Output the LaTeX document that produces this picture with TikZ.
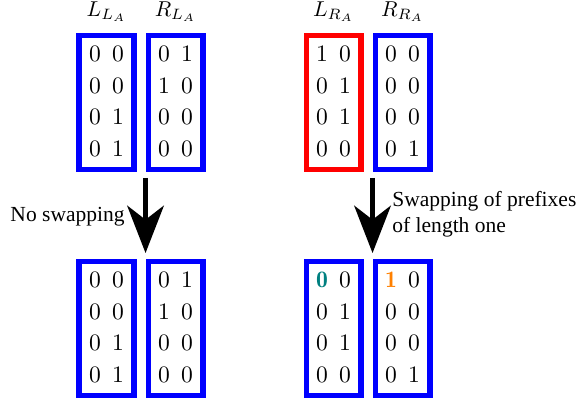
\documentclass[tikz,border=0pt]{standalone}
\usepackage{fontspec}
\newfontfamily\capfont{Liberation Serif}
\usetikzlibrary{arrows.meta,positioning}
\colorlet{myblue}{blue}
\colorlet{myred}{red}
\colorlet{myteal}{teal}
\colorlet{myorange}{orange}
\tikzset{
	>=latex, % default arrow head
	bitbox/.style={draw=myblue,line width=2.5pt,minimum width=25.4pt,minimum height=62.1pt,inner sep=0pt,font=\fontsize{11}{13}\selectfont},
	bitbox red/.style={bitbox,draw=myred},
	set name/.style={inner sep=0pt},
	swap arrow/.style={-{Stealth[length=22pt,width=17pt,inset=6.5pt]},line width=2.3pt,shorten <=2.8pt,shorten >=2.8pt},
	swap text/.style={font=\capfont,inner sep=0pt,align=left}
}
% four rows of two bits
\newcommand\bitrows[4]{\renewcommand{\arraystretch}{1.13}$\begin{array}{@{}c@{\hspace{5.2pt}}c@{}}#1\\#2\\#3\\#4\end{array}$}
\newcommand\hl[2]{\textcolor{#1}{\mathbf{#2}}}

\begin{document}
\begin{tikzpicture}[x=0.465pt,y=-0.465pt]
  \useasboundingbox (0,0) rectangle (576,402);

  % BEFORE
  \node[bitbox] (LLA) at (106.5,102.5) {\bitrows{0&0}{0&0}{0&1}{0&1}};
  \node[bitbox,right=4.2pt of LLA] (RLA) {\bitrows{0&1}{1&0}{0&0}{0&0}};
  \node[bitbox red] (LRA) at (333.5,102.5) {\bitrows{1&0}{0&1}{0&1}{0&0}};
  \node[bitbox,right=4.2pt of LRA] (RRA) {\bitrows{0&0}{0&0}{0&0}{0&1}};

  % NAMES
  \node[set name,above=5pt of LLA] (nLLA) {$L_{L_A}$};
  \node[set name,above=5pt of RLA] (nRLA) {$R_{L_A}$};
  \node[set name,above=5pt of LRA] (nLRA) {$L_{R_A}$};
  \node[set name,above=5pt of RRA] (nRRA) {$R_{R_A}$};

  % AFTER
  \node[bitbox,below=40.5pt of LLA] (LLB) {\bitrows{0&0}{0&0}{0&1}{0&1}};
  \node[bitbox,below=40.5pt of RLA] (RLB) {\bitrows{0&1}{1&0}{0&0}{0&0}};
  \node[bitbox,below=40.5pt of LRA] (LRB) {\bitrows{\hl{myteal}{0}&0}{0&1}{0&1}{0&0}};
  \node[bitbox,below=40.5pt of RRA] (RRB) {\bitrows{\hl{myorange}{1}&0}{0&0}{0&0}{0&1}};

  % ARROWS
  \draw[swap arrow] (RLA.south west) -- (RLB.north west);
  \draw[swap arrow] (RRA.south west) -- (RRB.north west);

  \node[swap text,anchor=base east] (noswap) at (125,221) {No swapping};
  \node[swap text,anchor=west] (swap) at (392,214) {Swapping of prefixes\\of length one};

\end{tikzpicture}
\end{document}
